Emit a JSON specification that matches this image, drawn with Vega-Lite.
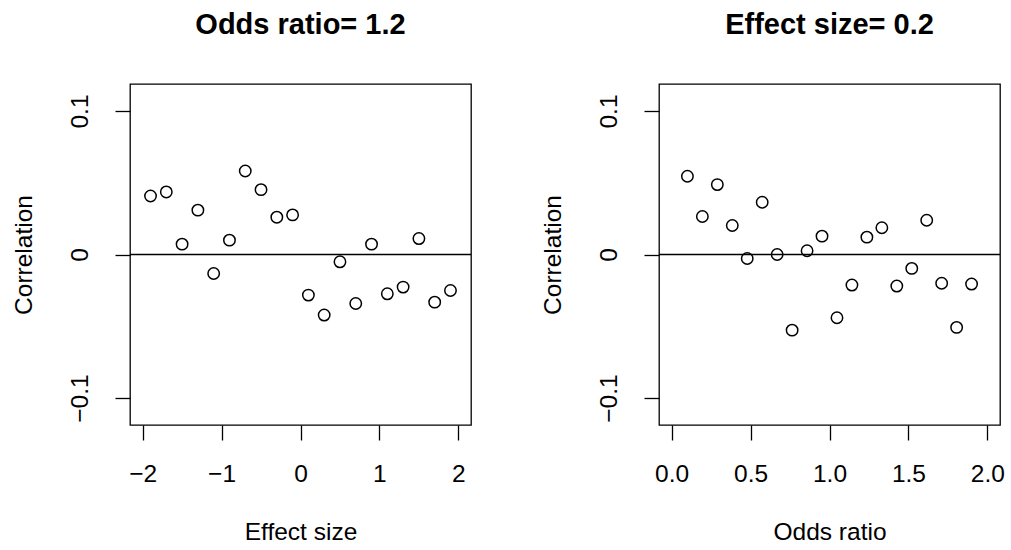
{
  "$schema": "https://vega.github.io/schema/vega-lite/v6.json",
  "background": "white",
  "padding": {"left": 10, "top": 10, "right": 5, "bottom": 5},
  "datasets": {
    "left": [
      {"effect": -1.9, "corr": 0.0408},
      {"effect": -1.7, "corr": 0.0436},
      {"effect": -1.5, "corr": 0.0072},
      {"effect": -1.3, "corr": 0.0309},
      {"effect": -1.1, "corr": -0.0132},
      {"effect": -0.9, "corr": 0.0100},
      {"effect": -0.7, "corr": 0.0582},
      {"effect": -0.5, "corr": 0.0452},
      {"effect": -0.3, "corr": 0.0260},
      {"effect": -0.1, "corr": 0.0276},
      {"effect": 0.1, "corr": -0.0283},
      {"effect": 0.3, "corr": -0.0422},
      {"effect": 0.5, "corr": -0.0051},
      {"effect": 0.7, "corr": -0.0341},
      {"effect": 0.9, "corr": 0.0072},
      {"effect": 1.1, "corr": -0.0274},
      {"effect": 1.3, "corr": -0.0227},
      {"effect": 1.5, "corr": 0.0111},
      {"effect": 1.7, "corr": -0.0332},
      {"effect": 1.9, "corr": -0.0251}
    ],
    "right": [
      {"odds": 0.1, "corr": 0.0545},
      {"odds": 0.1947, "corr": 0.0265},
      {"odds": 0.2895, "corr": 0.0487},
      {"odds": 0.3842, "corr": 0.0202},
      {"odds": 0.4789, "corr": -0.0028},
      {"odds": 0.5737, "corr": 0.0364},
      {"odds": 0.6684, "corr": 0.0000},
      {"odds": 0.7632, "corr": -0.0527},
      {"odds": 0.8579, "corr": 0.0026},
      {"odds": 0.9526, "corr": 0.0128},
      {"odds": 1.0474, "corr": -0.0441},
      {"odds": 1.1421, "corr": -0.0213},
      {"odds": 1.2368, "corr": 0.0121},
      {"odds": 1.3316, "corr": 0.0186},
      {"odds": 1.4263, "corr": -0.0220},
      {"odds": 1.5211, "corr": -0.0097},
      {"odds": 1.6158, "corr": 0.0239},
      {"odds": 1.7105, "corr": -0.0200},
      {"odds": 1.8053, "corr": -0.0508},
      {"odds": 1.9, "corr": -0.0206}
    ],
    "zero": [{"h": 0}]
  },
  "spacing": 66,
  "hconcat": [
    {
      "width": 341,
      "height": 341,
      "title": "Odds ratio= 1.2",
      "layer": [
        {
          "data": {"name": "zero"},
          "mark": {"type": "rule", "color": "#000", "strokeWidth": 1.3},
          "encoding": {"y": {"field": "h", "type": "quantitative", "scale": {"domain": [-0.1188, 0.1188], "nice": false, "zero": false}}}
        },
        {
          "data": {"name": "left"},
          "mark": {"type": "point", "shape": "circle", "filled": false, "size": 130, "strokeWidth": 1.5, "color": "#000", "opacity": 1},
          "encoding": {
            "x": {"field": "effect", "type": "quantitative", "title": "Effect size",
                  "scale": {"domain": [-2.16, 2.16], "nice": false, "zero": false},
                  "axis": {"values": [-2, -1, 0, 1, 2], "format": "d"}},
            "y": {"field": "corr", "type": "quantitative", "title": "Correlation",
                  "scale": {"domain": [-0.1188, 0.1188], "nice": false, "zero": false},
                  "axis": {"values": [-0.1, 0, 0.1], "labelExpr": "datum.value == 0 ? '0' : format(datum.value, '.1f')"}}
          }
        }
      ]
    },
    {
      "width": 341,
      "height": 341,
      "title": "Effect size= 0.2",
      "layer": [
        {
          "data": {"name": "zero"},
          "mark": {"type": "rule", "color": "#000", "strokeWidth": 1.3},
          "encoding": {"y": {"field": "h", "type": "quantitative", "scale": {"domain": [-0.1188, 0.1188], "nice": false, "zero": false}}}
        },
        {
          "data": {"name": "right"},
          "mark": {"type": "point", "shape": "circle", "filled": false, "size": 130, "strokeWidth": 1.5, "color": "#000", "opacity": 1},
          "encoding": {
            "x": {"field": "odds", "type": "quantitative", "title": "Odds ratio",
                  "scale": {"domain": [-0.08, 2.08], "nice": false, "zero": false},
                  "axis": {"values": [0, 0.5, 1, 1.5, 2], "format": ".1f"}},
            "y": {"field": "corr", "type": "quantitative", "title": "Correlation",
                  "scale": {"domain": [-0.1188, 0.1188], "nice": false, "zero": false},
                  "axis": {"values": [-0.1, 0, 0.1], "labelExpr": "datum.value == 0 ? '0' : format(datum.value, '.1f')"}}
          }
        }
      ]
    }
  ],
  "config": {
    "font": "Liberation Sans",
    "view": {"stroke": "#000", "strokeWidth": 1.3},
    "title": {"fontSize": 29, "fontWeight": "bold", "color": "#000", "offset": 44, "anchor": "middle"},
    "axis": {
      "grid": false,
      "domain": false,
      "ticks": true,
      "tickSize": 15,
      "tickWidth": 1.3,
      "tickColor": "#000",
      "labelFontSize": 24.5,
      "labelColor": "#000",
      "labelFlush": false,
      "labelOverlap": false,
      "titleFontSize": 24.5,
      "titleFontWeight": "normal",
      "titleColor": "#000"
    },
    "axisX": {"labelPadding": 22, "titlePadding": 35},
    "axisY": {"labelAngle": -90, "labelAlign": "center", "labelBaseline": "bottom", "labelPadding": 23, "titlePadding": 31}
  }
}
